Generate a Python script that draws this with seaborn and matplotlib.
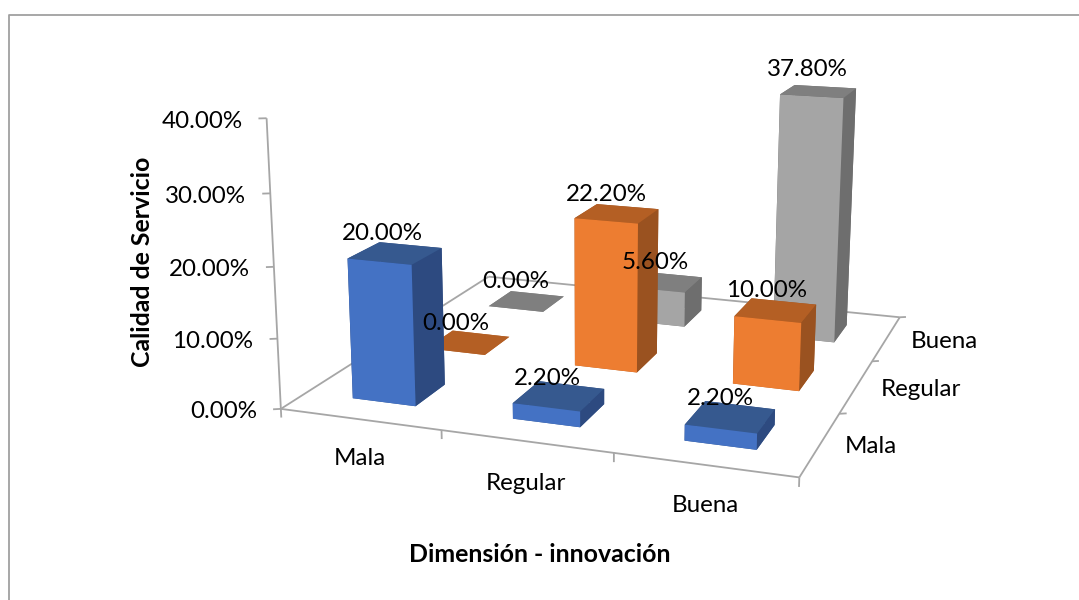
import numpy as np
import pandas as pd
import seaborn as sns
import matplotlib
matplotlib.use("Agg")
import matplotlib.pyplot as plt
from matplotlib.lines import Line2D

# Survey shares in percent: one row per service-quality level, one column per innovation level
innovation_levels = ["Mala", "Regular", "Buena"]
service_levels = ["Mala", "Regular", "Buena"]
service_mala = [20.0, 2.2, 2.2]
service_regular = [0.0, 22.2, 10.0]
service_buena = [0.0, 5.6, 37.8]
value_ticks = [0, 10, 20, 30, 40]

sns.set_theme(style="white")
plt.rcParams["font.family"] = ["Lato", "DejaVu Sans"]

table = pd.DataFrame(
    [service_mala, service_regular, service_buena],
    index=service_levels, columns=innovation_levels,
)

front_colors = sns.color_palette(["#4472C4", "#ED7D31", "#A5A5A5"])
top_colors = sns.color_palette(["#36598F", "#B45F24", "#7F7F7F"])
side_colors = sns.color_palette(["#2D4A80", "#9A5220", "#6E6E6E"])
AXIS_GREY = "#A6A6A6"
BAR_INSET = 0.3
W, H = 1079, 600

fig = plt.figure(figsize=(W / 100, H / 100), dpi=100, facecolor="white")
# Square 3D axes wide enough to cover the whole canvas
ax = fig.add_axes([0, (H - W) / 2 / H, 1, W / H], projection="3d", computed_zorder=False)
ax.set_axis_off()
ax.apply_aspect()

# Perspective camera: solved by least squares from known scene points and where they fall on the canvas
i0, i1 = BAR_INSET, 1 - BAR_INSET
j2, k2 = 2 + i0, 2 + i1
scene = np.array([
    (0, 0, 0), (3, 0, 0), (3, 3, 0), (0, 3, 0), (1, 0, 0), (3, 1, 0), (3, 2, 0),
    (0, 0, 40), (0, 0, 30), (0, 0, 20), (0, 0, 10),
    (j2, j2, 37.8), (k2, j2, 37.8), (k2, k2, 37.8), (j2, k2, 37.8),
    (i0, i0, 20), (i1, i0, 20), (i1, i1, 20), (i0, i1, 20),
    (i0, i0, 0), (i1, i0, 0), (i1, i1, 0),
], dtype=float)
canvas = np.array([
    (281.7, 408.3), (798.3, 476.7), (899, 317.7), (488.7, 276.4), (441.7, 431.3), (840, 414.3), (873.3, 361),
    (267.7, 117.7), (269.5, 193.5), (273.5, 266.7), (276, 338.3),
    (780, 94.3), (843.3, 97.7), (855.7, 88.3), (795, 85),
    (347.7, 259), (412.3, 264.3), (441.7, 249), (379.3, 243.3),
    (353.3, 398.3), (415.7, 405.7), (444, 384),
])


def solve_camera(points, pixels):
    rows = []
    for (x, y, z), (u, v) in zip(points, pixels):
        v = H - v
        rows.append([x, y, z, 1, 0, 0, 0, 0, -u * x, -u * y, -u * z, -u])
        rows.append([0, 0, 0, 0, x, y, z, 1, -v * x, -v * y, -v * z, -v])
    A = np.array(rows)
    norm = 1 / np.abs(A).max(axis=0)
    _, _, vt = np.linalg.svd(A * norm)
    P = (vt[-1] * norm).reshape(3, 4)
    return P / (P @ np.array([1.5, 1.5, 0, 1]))[2]


camera = solve_camera(scene, canvas)
to_axes = np.linalg.inv(ax.transData.get_matrix()) @ camera
to_axes = to_axes / (to_axes @ np.array([1.5, 1.5, 0, 1]))[2]
# Depth stays negative over the whole scene and grows with distance from the camera
depth = -5 * to_axes[2] + np.array([0, 0, 0, -1.0])
M = np.vstack([to_axes[0], to_axes[1], depth, to_axes[2]])
ax.get_proj = lambda: M


def project(x, y, z):
    h = M @ np.array([x, y, z, 1.0])
    return h[0] / h[3], h[1] / h[3]


def line3d(start, end):
    xs, ys, zs = zip(start, end)
    ax.plot(xs, ys, zs, color=AXIS_GREY, lw=1.3, solid_capstyle="butt", zorder=2)


def put_text(x, y, z, text, dx, dy, **kw):
    ax.annotate(text, project(x, y, z), xycoords="data", xytext=(dx, dy),
                textcoords="offset pixels", annotation_clip=False, zorder=100,
                color="black", fontsize=17.4, **kw)


# Floor outline and the value axis
outline = [(0, 0, 0), (3, 0, 0), (3, 3, 0), (0, 3, 0), (0, 0, 0)]
for start, end in zip(outline[:-1], outline[1:]):
    line3d(start, end)
line3d((0, 0, 0), (0, 0, 40))
for v in value_ticks:
    line3d((0, 0, v), (-0.038, -0.021, v))
    put_text(0, 0, v, f"{v:.2f}%", -24, -3, ha="right", va="center")
for i in range(4):
    line3d((i, 0, 0), (i, 0, -1.25))
for j in range(1, 4):
    line3d((3, j, 0), (3.038, j + 0.021, 0))

# Bars, painted from the back row to the front
width = 1 - 2 * BAR_INSET
for row, service in reversed(list(enumerate(table.index))):
    for col, innovation in enumerate(table.columns):
        value = table.loc[service, innovation]
        faces = [top_colors[row], top_colors[row], front_colors[row],
                 side_colors[row], side_colors[row], side_colors[row]]
        ax.bar3d(col + BAR_INSET, row + BAR_INSET, 0, width, width, value,
                 color=faces, shade=False, linewidth=0, zorder=10 + (2 - row) * 3 + col)

# Value labels sit just above and left of each bar top
label_shift = {(0, 0): (-13, 20), (0, 1): (-12, 17), (0, 2): (-10, 18),
               (1, 0): (-13, 19), (1, 1): (-11, 19), (1, 2): (-9, 20),
               (2, 0): (-11, 20), (2, 1): (-10, 20), (2, 2): (-11, 22)}
for row, service in enumerate(table.index):
    for col, innovation in enumerate(table.columns):
        value = table.loc[service, innovation]
        dx, dy = label_shift[(row, col)]
        put_text(col + 0.5, row + 0.5, value, f"{value:.2f}%", dx, dy, ha="center", va="center")

# Category labels along both floor edges
front_drop = [-39, -42, -41]
side_shift = [51, 64, 58]
for col, name in enumerate(innovation_levels):
    put_text(col + 0.5, 0, 0, name, 0, front_drop[col], ha="center", va="center")
for row, name in enumerate(service_levels):
    put_text(3, row + 0.5, 0, name, side_shift[row], -3, ha="center", va="center")

fig.text(540 / W, 1 - 555 / H, "Dimensión - innovación", ha="center", va="center",
         fontsize=17.9, fontweight="bold", color="black")
fig.text(142 / W, 1 - 262 / H, "Calidad de Servicio", ha="center", va="center",
         rotation=90, fontsize=17.9, fontweight="bold", color="black")

# Chart frame, open towards the right and bottom edges of the canvas
fig.add_artist(Line2D([8.5 / W, 8.5 / W, 1], [0, 1 - 14.5 / H, 1 - 14.5 / H],
                      transform=fig.transFigure, color="#A0A0A0", lw=1.3))

fig.savefig("out.png", dpi=100)
